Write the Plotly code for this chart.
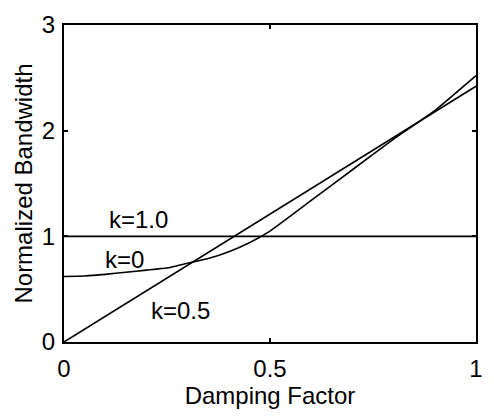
import plotly.graph_objects as go

# Data
damping = [0, 0.05, 0.1, 0.15, 0.2, 0.25, 0.3, 0.35, 0.4, 0.45, 0.5, 0.6, 0.7, 0.8, 0.9, 1.0]
bw_k0 = [0.62, 0.625, 0.64, 0.66, 0.68, 0.70, 0.745, 0.79, 0.855, 0.94, 1.05, 1.34, 1.63, 1.92, 2.19, 2.52]
damping_lin = [0, 1.0]
bw_k05 = [0, 2.42]
bw_k10 = [1.0, 1.0]

labels = ["k=1.0", "k=0", "k=0.5"]
label_x = [0.181, 0.148, 0.282]
label_y = [1.16, 0.78, 0.30]

x_ticks = [0, 0.5, 1]
x_ticktext = ["0", "0.5", "1"]
y_ticks = [0, 1, 2, 3]

FONT = "Liberation Sans, Arial, sans-serif"
FS = 24

fig = go.Figure()
line = dict(color="black", width=1.6)
fig.add_trace(go.Scatter(x=damping_lin, y=bw_k10, mode="lines", line=line, name="k=1.0"))
fig.add_trace(go.Scatter(x=damping, y=bw_k0, mode="lines",
                         line=dict(color="black", width=1.6, shape="spline", smoothing=0.4), name="k=0"))
fig.add_trace(go.Scatter(x=damping_lin, y=bw_k05, mode="lines", line=line, name="k=0.5"))

for t, x, y in zip(labels, label_x, label_y):
    fig.add_annotation(x=x, y=y, text=t, showarrow=False,
                       font=dict(family=FONT, size=FS, color="black"))

axis_common = dict(showline=True, linecolor="black", linewidth=2, mirror="ticks",
                   ticks="inside", ticklen=4, tickcolor="black", tickwidth=1.5,
                   showgrid=False, zeroline=False,
                   tickfont=dict(family=FONT, size=FS, color="black"))

fig.update_xaxes(range=[0, 1], tickvals=x_ticks, ticktext=x_ticktext,
                 title=dict(text="Damping Factor", font=dict(family=FONT, size=FS, color="black"), standoff=4),
                 ticklabelstandoff=4, **axis_common)
fig.update_yaxes(range=[0, 3], tickvals=y_ticks,
                 title=dict(text="Normalized Bandwidth", font=dict(family=FONT, size=FS, color="black"), standoff=2),
                 ticklabelstandoff=2, **axis_common)

fig.update_layout(width=494, height=417, showlegend=False,
                  margin=dict(l=64, r=11, t=14, b=75),
                  plot_bgcolor="white", paper_bgcolor="white")

fig.write_html("out.html")
